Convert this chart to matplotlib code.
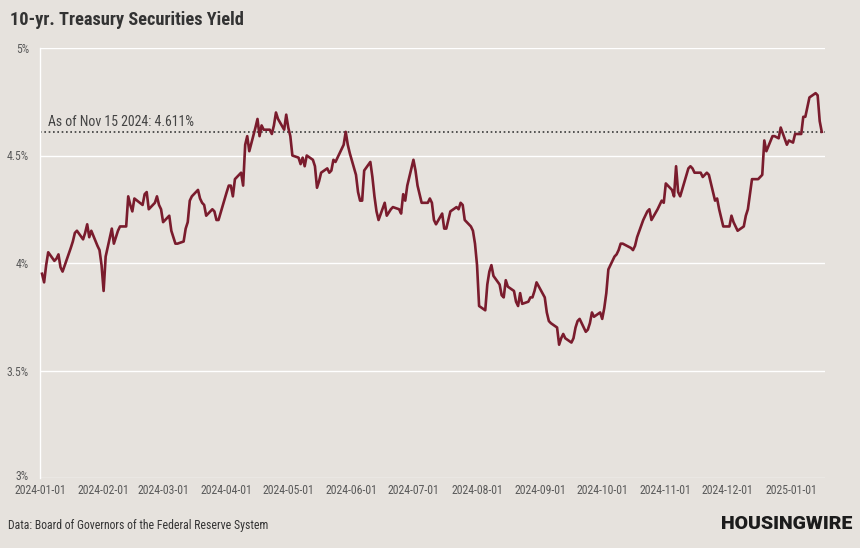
import matplotlib.pyplot as plt
import matplotlib.dates as mdates
import matplotlib.transforms as mtransforms
import pandas as pd

# 10-yr treasury yield, daily (%)
dates = [
    # 2024-01
    "2024-01-02", "2024-01-03", "2024-01-04", "2024-01-05", "2024-01-08", "2024-01-09", "2024-01-10",
    "2024-01-11", "2024-01-12", "2024-01-16", "2024-01-17", "2024-01-18", "2024-01-19", "2024-01-22",
    "2024-01-23", "2024-01-24", "2024-01-25", "2024-01-26", "2024-01-29", "2024-01-30", "2024-01-31",
    # 2024-02
    "2024-02-01", "2024-02-02", "2024-02-05", "2024-02-06", "2024-02-07", "2024-02-08", "2024-02-09",
    "2024-02-12", "2024-02-13", "2024-02-14", "2024-02-15", "2024-02-16", "2024-02-20", "2024-02-21",
    "2024-02-22", "2024-02-23", "2024-02-26", "2024-02-27", "2024-02-28", "2024-02-29",
    # 2024-03
    "2024-03-01", "2024-03-04", "2024-03-05", "2024-03-06", "2024-03-07", "2024-03-08", "2024-03-11",
    "2024-03-12", "2024-03-13", "2024-03-14", "2024-03-15", "2024-03-18", "2024-03-19", "2024-03-20",
    "2024-03-21", "2024-03-22", "2024-03-25", "2024-03-26", "2024-03-27", "2024-03-28",
    # 2024-04
    "2024-04-01", "2024-04-02", "2024-04-03", "2024-04-04", "2024-04-05", "2024-04-08", "2024-04-09",
    "2024-04-10", "2024-04-11", "2024-04-12", "2024-04-15", "2024-04-16", "2024-04-17", "2024-04-18",
    "2024-04-19", "2024-04-22", "2024-04-23", "2024-04-24", "2024-04-25", "2024-04-26", "2024-04-29",
    "2024-04-30",
    # 2024-05
    "2024-05-01", "2024-05-02", "2024-05-03", "2024-05-06", "2024-05-07", "2024-05-08", "2024-05-09",
    "2024-05-10", "2024-05-13", "2024-05-14", "2024-05-15", "2024-05-16", "2024-05-17", "2024-05-20",
    "2024-05-21", "2024-05-22", "2024-05-23", "2024-05-24", "2024-05-28", "2024-05-29", "2024-05-30",
    "2024-05-31",
    # 2024-06
    "2024-06-03", "2024-06-04", "2024-06-05", "2024-06-06", "2024-06-07", "2024-06-10", "2024-06-11",
    "2024-06-12", "2024-06-13", "2024-06-14", "2024-06-17", "2024-06-18", "2024-06-20", "2024-06-21",
    "2024-06-24", "2024-06-25", "2024-06-26", "2024-06-27", "2024-06-28",
    # 2024-07
    "2024-07-01", "2024-07-02", "2024-07-03", "2024-07-05", "2024-07-08", "2024-07-09", "2024-07-10",
    "2024-07-11", "2024-07-12", "2024-07-15", "2024-07-16", "2024-07-17", "2024-07-18", "2024-07-19",
    "2024-07-22", "2024-07-23", "2024-07-24", "2024-07-25", "2024-07-26", "2024-07-29", "2024-07-30",
    "2024-07-31",
    # 2024-08
    "2024-08-01", "2024-08-02", "2024-08-05", "2024-08-06", "2024-08-07", "2024-08-08", "2024-08-09",
    "2024-08-12", "2024-08-13", "2024-08-14", "2024-08-15", "2024-08-16", "2024-08-19", "2024-08-20",
    "2024-08-21", "2024-08-22", "2024-08-23", "2024-08-26", "2024-08-27", "2024-08-28", "2024-08-29",
    "2024-08-30",
    # 2024-09
    "2024-09-03", "2024-09-04", "2024-09-05", "2024-09-06", "2024-09-09", "2024-09-10", "2024-09-11",
    "2024-09-12", "2024-09-13", "2024-09-16", "2024-09-17", "2024-09-18", "2024-09-19", "2024-09-20",
    "2024-09-23", "2024-09-24", "2024-09-25", "2024-09-26", "2024-09-27", "2024-09-30",
    # 2024-10
    "2024-10-01", "2024-10-02", "2024-10-03", "2024-10-04", "2024-10-07", "2024-10-08", "2024-10-09",
    "2024-10-10", "2024-10-11", "2024-10-15", "2024-10-16", "2024-10-17", "2024-10-18", "2024-10-21",
    "2024-10-22", "2024-10-23", "2024-10-24", "2024-10-25", "2024-10-28", "2024-10-29", "2024-10-30",
    "2024-10-31",
    # 2024-11
    "2024-11-01", "2024-11-04", "2024-11-05", "2024-11-06", "2024-11-07", "2024-11-08", "2024-11-12",
    "2024-11-13", "2024-11-14", "2024-11-15", "2024-11-18", "2024-11-19", "2024-11-20", "2024-11-21",
    "2024-11-22", "2024-11-25", "2024-11-26", "2024-11-27", "2024-11-29",
    # 2024-12
    "2024-12-02", "2024-12-03", "2024-12-04", "2024-12-05", "2024-12-06", "2024-12-09", "2024-12-10",
    "2024-12-11", "2024-12-12", "2024-12-13", "2024-12-16", "2024-12-17", "2024-12-18", "2024-12-19",
    "2024-12-20", "2024-12-23", "2024-12-24", "2024-12-26", "2024-12-27", "2024-12-30", "2024-12-31",
    # 2025-01
    "2025-01-02", "2025-01-03", "2025-01-06", "2025-01-07", "2025-01-08", "2025-01-10", "2025-01-13",
    "2025-01-14", "2025-01-15", "2025-01-16",
]

yields = [
    # 2024-01
    3.95, 3.91, 3.99, 4.05, 4.01, 4.02, 4.04,
    3.98, 3.96, 4.07, 4.10, 4.14, 4.15, 4.11,
    4.14, 4.18, 4.12, 4.15, 4.08, 4.06, 3.99,
    # 2024-02
    3.87, 4.03, 4.16, 4.09, 4.12, 4.15, 4.17,
    4.17, 4.31, 4.27, 4.24, 4.30, 4.27, 4.32,
    4.33, 4.25, 4.28, 4.31, 4.27, 4.25,
    # 2024-03
    4.19, 4.22, 4.15, 4.12, 4.09, 4.09, 4.10,
    4.16, 4.19, 4.29, 4.31, 4.34, 4.30, 4.28,
    4.27, 4.22, 4.25, 4.24, 4.20, 4.20,
    # 2024-04
    4.33, 4.36, 4.36, 4.31, 4.39, 4.42, 4.36,
    4.55, 4.59, 4.52, 4.63, 4.67, 4.59, 4.64,
    4.62, 4.62, 4.60, 4.64, 4.70, 4.67, 4.62,
    4.69,
    # 2024-05
    4.63, 4.59, 4.50, 4.49, 4.46, 4.49, 4.45,
    4.50, 4.48, 4.45, 4.35, 4.38, 4.42, 4.44,
    4.42, 4.43, 4.48, 4.47, 4.55, 4.61, 4.55,
    4.51,
    # 2024-06
    4.41, 4.33, 4.29, 4.29, 4.43, 4.47, 4.40,
    4.31, 4.24, 4.20, 4.28, 4.22, 4.25, 4.26,
    4.25, 4.23, 4.32, 4.29, 4.36,
    # 2024-07
    4.48, 4.43, 4.36, 4.28, 4.28, 4.30, 4.28,
    4.20, 4.18, 4.23, 4.16, 4.16, 4.20, 4.24,
    4.26, 4.25, 4.28, 4.27, 4.20, 4.17, 4.15,
    4.09,
    # 2024-08
    3.99, 3.80, 3.78, 3.90, 3.96, 3.99, 3.94,
    3.90, 3.85, 3.84, 3.92, 3.89, 3.87, 3.82,
    3.80, 3.86, 3.81, 3.82, 3.84, 3.84, 3.87,
    3.91,
    # 2024-09
    3.84, 3.77, 3.73, 3.72, 3.70, 3.62, 3.65,
    3.67, 3.65, 3.63, 3.65, 3.70, 3.73, 3.74,
    3.68, 3.69, 3.72, 3.77, 3.75, 3.77,
    # 2024-10
    3.74, 3.79, 3.86, 3.97, 4.03, 4.04, 4.06,
    4.09, 4.09, 4.07, 4.06, 4.08, 4.12, 4.20,
    4.22, 4.24, 4.25, 4.20, 4.25, 4.27, 4.29,
    4.28,
    # 2024-11
    4.37, 4.34, 4.31, 4.45, 4.33, 4.31, 4.44,
    4.45, 4.44, 4.42, 4.42, 4.40, 4.41, 4.42,
    4.41, 4.29, 4.30, 4.25, 4.17,
    # 2024-12
    4.17, 4.22, 4.19, 4.17, 4.15, 4.17, 4.22,
    4.25, 4.32, 4.39, 4.39, 4.40, 4.41, 4.57,
    4.52, 4.59, 4.59, 4.58, 4.63, 4.55, 4.57,
    # 2025-01
    4.56, 4.60, 4.60, 4.68, 4.68, 4.77, 4.79,
    4.78, 4.66, 4.61,
]

latest_label = "As of Nov 15 2024: 4.611%"
latest_value = 4.611
y_ticks = [3, 3.5, 4, 4.5, 5]
y_tick_labels = ["3%", "3.5%", "4%", "4.5%", "5%"]

bg = "#e6e2dd"
line_color = "#7a1c2d"
font = ["Roboto Condensed", "Liberation Sans Narrow", "Roboto", "DejaVu Sans"]
plt.rcParams["font.family"] = font

x = pd.to_datetime(dates)

fig = plt.figure(figsize=(8.6, 5.48), dpi=100, facecolor=bg)
ax = fig.add_axes([40 / 860, 1 - 478 / 548, 785 / 860, 430 / 548])
ax.set_facecolor(bg)

ax.plot(x, yields, color=line_color, lw=1.9, solid_joinstyle="round", zorder=3)
ax.axhline(latest_value, color="#3a3a3a", lw=1.2, ls=(0, (1, 1.6)), zorder=2)
ax.text(8 / 785, 4.636, latest_label, transform=ax.get_yaxis_transform(),
        fontsize=10, color="#444444", va="baseline")

ax.set_ylim(3, 5)
ax.set_yticks(y_ticks)
ax.set_yticklabels(y_tick_labels)
ax.set_xlim(pd.Timestamp("2024-01-01"), pd.Timestamp("2025-01-17 14:00"))
ax.xaxis.set_major_locator(mdates.MonthLocator())
ax.xaxis.set_major_formatter(mdates.DateFormatter("%Y-%m-%d"))

ax.grid(axis="y", color="white", lw=1)
ax.set_axisbelow(True)
for s in ["top", "right", "bottom"]:
    ax.spines[s].set_visible(False)
ax.spines["left"].set_color("white")
ax.spines["left"].set_linewidth(1)
ax.tick_params(axis="both", length=0, colors="#5a5a5a", labelsize=8.5)
ax.tick_params(axis="y", pad=8)
ax.tick_params(axis="x", pad=4)

# the bottom "3%" label sits a little above its gridline
lab3 = ax.get_yticklabels()[0]
lab3.set_transform(lab3.get_transform() + mtransforms.ScaledTranslation(0, 3 / 100, fig.dpi_scale_trans))

fig.text(10 / 860, 1 - 20 / 548, "10-yr. Treasury Securities Yield", fontsize=13.2,
         fontweight="bold", color="#333333", va="center")
fig.text(8 / 860, 1 - 525 / 548, "Data: Board of Governors of the Federal Reserve System",
         fontsize=8.5, color="#333333", va="center")
fig.text(852 / 860, 1 - 524 / 548, "HOUSINGWIRE", fontsize=14, fontweight="black",
         color="#1c1c1c", ha="right", va="center", family=["Roboto", "DejaVu Sans"])

fig.savefig("out.png", dpi=100, facecolor=bg)
